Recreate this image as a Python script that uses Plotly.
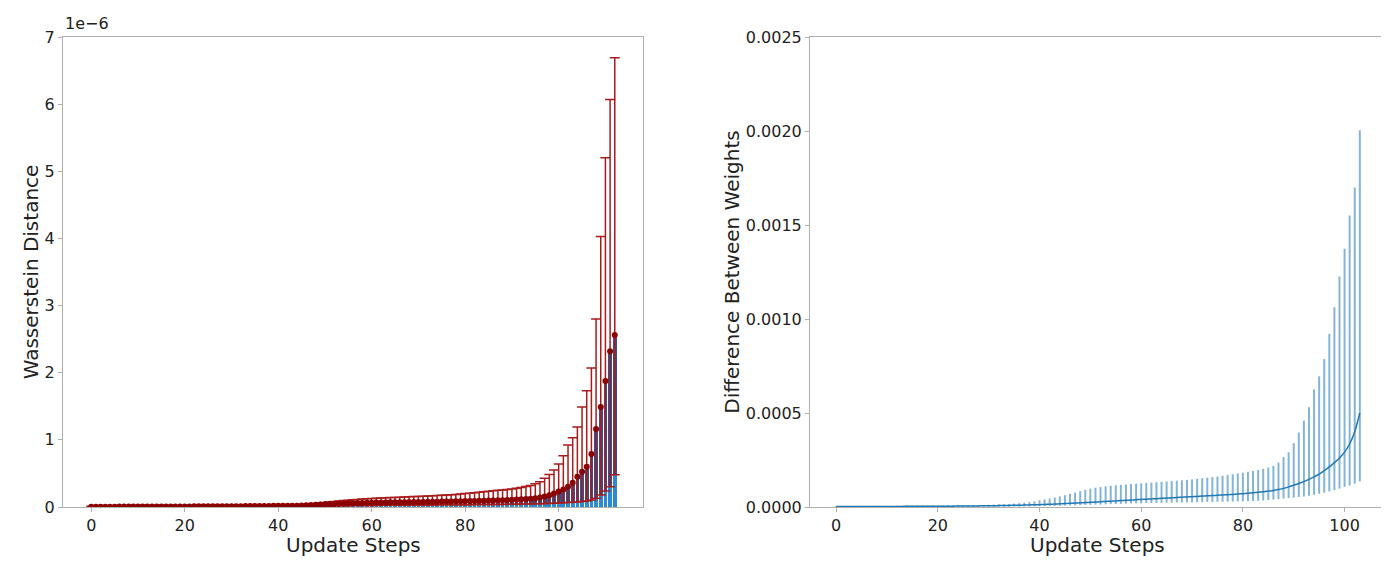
import numpy as np
import plotly.graph_objects as go
from plotly.subplots import make_subplots

# ---- left panel: Wasserstein distance per update step (units of 1e-6) ----
w_steps = list(range(113))
w_mean = [0.004, 0.004, 0.005, 0.005, 0.005, 0.005, 0.006, 0.006, 0.006, 0.006,
          0.006, 0.007, 0.007, 0.007, 0.007, 0.008, 0.008, 0.008, 0.008, 0.009,
          0.009, 0.009, 0.010, 0.010, 0.010, 0.011, 0.011, 0.011, 0.012, 0.012,
          0.012, 0.013, 0.013, 0.014, 0.014, 0.015, 0.015, 0.016, 0.016, 0.017,
          0.017, 0.018, 0.018, 0.019, 0.020, 0.022, 0.025, 0.028, 0.032, 0.036,
          0.040, 0.043, 0.046, 0.049, 0.052, 0.055, 0.057, 0.059, 0.061, 0.063,
          0.065, 0.066, 0.067, 0.068, 0.069, 0.070, 0.071, 0.072, 0.073, 0.074,
          0.075, 0.076, 0.077, 0.078, 0.080, 0.081, 0.082, 0.083, 0.085, 0.086,
          0.088, 0.089, 0.091, 0.092, 0.094, 0.096, 0.098, 0.100, 0.102, 0.105,
          0.108, 0.111, 0.114, 0.118, 0.123, 0.130, 0.140, 0.155, 0.175, 0.200,
          0.230, 0.260, 0.300, 0.360, 0.450, 0.525, 0.600, 0.790, 1.160, 1.490,
          1.875, 2.320, 2.560]
w_upper = [0.012, 0.012, 0.012, 0.013, 0.013, 0.013, 0.013, 0.013, 0.014, 0.014,
           0.014, 0.014, 0.014, 0.014, 0.015, 0.015, 0.015, 0.015, 0.015, 0.015,
           0.015, 0.016, 0.016, 0.016, 0.017, 0.017, 0.017, 0.018, 0.018, 0.018,
           0.019, 0.019, 0.019, 0.020, 0.020, 0.020, 0.021, 0.021, 0.022, 0.022,
           0.023, 0.024, 0.025, 0.026, 0.028, 0.031, 0.036, 0.042, 0.050, 0.058,
           0.068, 0.076, 0.083, 0.090, 0.096, 0.102, 0.108, 0.113, 0.118, 0.123,
           0.128, 0.131, 0.134, 0.137, 0.140, 0.143, 0.146, 0.149, 0.152, 0.155,
           0.158, 0.161, 0.164, 0.167, 0.170, 0.174, 0.178, 0.182, 0.187, 0.193,
           0.200, 0.205, 0.212, 0.220, 0.228, 0.235, 0.242, 0.248, 0.254, 0.260,
           0.268, 0.278, 0.290, 0.305, 0.322, 0.345, 0.375, 0.430, 0.485, 0.550,
           0.640, 0.765, 0.925, 1.030, 1.190, 1.490, 1.730, 2.070, 2.800, 4.030,
           5.200, 6.070, 6.690]
w_lower = [0.002, 0.002, 0.002, 0.002, 0.002, 0.002, 0.003, 0.003, 0.003, 0.003,
           0.003, 0.003, 0.003, 0.003, 0.003, 0.004, 0.004, 0.004, 0.004, 0.004,
           0.004, 0.004, 0.005, 0.005, 0.005, 0.005, 0.005, 0.005, 0.006, 0.006,
           0.006, 0.006, 0.006, 0.007, 0.007, 0.007, 0.007, 0.007, 0.008, 0.008,
           0.008, 0.008, 0.009, 0.009, 0.010, 0.010, 0.011, 0.012, 0.013, 0.014,
           0.015, 0.016, 0.017, 0.018, 0.019, 0.020, 0.021, 0.022, 0.022, 0.023,
           0.024, 0.024, 0.025, 0.025, 0.026, 0.026, 0.027, 0.027, 0.028, 0.029,
           0.030, 0.030, 0.031, 0.031, 0.032, 0.032, 0.033, 0.033, 0.034, 0.034,
           0.035, 0.035, 0.036, 0.036, 0.037, 0.037, 0.038, 0.038, 0.039, 0.040,
           0.041, 0.042, 0.043, 0.044, 0.045, 0.047, 0.049, 0.051, 0.053, 0.056,
           0.059, 0.062, 0.066, 0.070, 0.075, 0.082, 0.090, 0.105, 0.130, 0.180,
           0.240, 0.300, 0.480]

# ---- right panel: difference between weights per update step ----
d_steps = list(range(104))
d_mean = [2.0e-6, 2.1e-6, 2.2e-6, 2.3e-6, 2.4e-6, 2.5e-6, 2.6e-6, 2.7e-6, 2.8e-6, 2.9e-6,
          3.0e-6, 3.1e-6, 3.2e-6, 3.3e-6, 3.4e-6, 3.5e-6, 3.6e-6, 3.7e-6, 3.8e-6, 3.9e-6,
          4.0e-6, 4.2e-6, 4.4e-6, 4.6e-6, 4.8e-6, 5.0e-6, 5.3e-6, 5.6e-6, 5.9e-6, 6.2e-6,
          6.5e-6, 7.0e-6, 7.5e-6, 8.0e-6, 8.5e-6, 9.0e-6, 9.6e-6, 10.3e-6, 11.0e-6, 11.8e-6,
          12.6e-6, 13.5e-6, 14.5e-6, 15.6e-6, 16.8e-6, 18.0e-6, 19.4e-6, 20.8e-6, 22.2e-6, 23.6e-6,
          25.0e-6, 26.5e-6, 28.0e-6, 29.5e-6, 31.0e-6, 32.5e-6, 34.0e-6, 35.5e-6, 37.0e-6, 38.5e-6,
          40.0e-6, 41.5e-6, 43.0e-6, 44.5e-6, 46.0e-6, 47.5e-6, 49.0e-6, 50.5e-6, 52.0e-6, 53.5e-6,
          55.0e-6, 56.5e-6, 58.0e-6, 59.5e-6, 61.0e-6, 62.5e-6, 64.0e-6, 65.5e-6, 67.0e-6, 69.0e-6,
          71.0e-6, 73.0e-6, 75.5e-6, 78.0e-6, 81.0e-6, 84.5e-6, 88.0e-6, 93.0e-6, 99.0e-6, 107e-6,
          116e-6, 125e-6, 135e-6, 147e-6, 160e-6, 175e-6, 193e-6, 213e-6, 236e-6, 261e-6,
          292e-6, 335e-6, 400e-6, 500e-6]
d_upper = [5e-6, 5e-6, 5e-6, 5e-6, 5e-6, 6e-6, 6e-6, 6e-6, 6e-6, 6e-6,
           6e-6, 6e-6, 7e-6, 7e-6, 7e-6, 7e-6, 7e-6, 8e-6, 8e-6, 8e-6,
           8e-6, 8e-6, 9e-6, 9e-6, 9e-6, 10e-6, 10e-6, 10e-6, 11e-6, 11e-6,
           12e-6, 13e-6, 14e-6, 15e-6, 16e-6, 18e-6, 20e-6, 23e-6, 26e-6, 30e-6,
           36e-6, 40e-6, 45e-6, 50e-6, 56e-6, 63e-6, 70e-6, 77e-6, 84e-6, 91e-6,
           98e-6, 102e-6, 106e-6, 110e-6, 113e-6, 116e-6, 118e-6, 120e-6, 122e-6, 124e-6,
           126e-6, 128e-6, 130e-6, 132e-6, 134e-6, 136e-6, 138e-6, 140e-6, 142e-6, 144e-6,
           147e-6, 150e-6, 153e-6, 156e-6, 159e-6, 162e-6, 166e-6, 170e-6, 174e-6, 178e-6,
           182e-6, 187e-6, 192e-6, 197e-6, 203e-6, 210e-6, 219e-6, 236e-6, 266e-6, 291e-6,
           340e-6, 396e-6, 459e-6, 531e-6, 626e-6, 695e-6, 787e-6, 921e-6, 1063e-6, 1226e-6,
           1374e-6, 1550e-6, 1700e-6, 2004e-6]
d_lower = [0.5e-6, 0.5e-6, 0.5e-6, 0.5e-6, 0.5e-6, 0.5e-6, 0.5e-6, 0.5e-6, 0.5e-6, 0.5e-6,
           0.6e-6, 0.6e-6, 0.6e-6, 0.6e-6, 0.6e-6, 0.7e-6, 0.7e-6, 0.7e-6, 0.7e-6, 0.7e-6,
           0.8e-6, 0.8e-6, 0.8e-6, 0.8e-6, 0.9e-6, 0.9e-6, 0.9e-6, 1.0e-6, 1.0e-6, 1.0e-6,
           1.0e-6, 1.0e-6, 1.5e-6, 1.5e-6, 2.0e-6, 2.0e-6, 2.5e-6, 3.0e-6, 3.0e-6, 3.5e-6,
           4.0e-6, 4.5e-6, 5.0e-6, 5.5e-6, 6.0e-6, 7.0e-6, 8.0e-6, 9.0e-6, 10e-6, 11e-6,
           12e-6, 12.5e-6, 13e-6, 14e-6, 15e-6, 16e-6, 17e-6, 18e-6, 19e-6, 20e-6,
           20e-6, 21e-6, 21e-6, 22e-6, 22e-6, 23e-6, 23e-6, 24e-6, 24e-6, 25e-6,
           25e-6, 26e-6, 26e-6, 27e-6, 27e-6, 28e-6, 28e-6, 29e-6, 29e-6, 30e-6,
           30e-6, 31e-6, 32e-6, 33e-6, 35e-6, 37e-6, 39e-6, 42e-6, 45e-6, 48e-6,
           50e-6, 53e-6, 56e-6, 60e-6, 65e-6, 70e-6, 76e-6, 83e-6, 90e-6, 98e-6,
           107e-6, 114e-6, 124e-6, 136e-6]

w_yticks = [0, 1, 2, 3, 4, 5, 6, 7]
d_yticks = [0, 0.0005, 0.0010, 0.0015, 0.0020, 0.0025]
x_ticks = [0, 20, 40, 60, 80, 100]

FONT = "DejaVu Sans"
AX_COL = "#b0b0b0"
TXT = "#222"
LEFT_DOM = [0, 0.4384]
RIGHT_DOM = [0.5646, 1.0]

wm, wu, wl = np.array(w_mean), np.array(w_upper), np.array(w_lower)
dm, du, dl = np.array(d_mean), np.array(d_upper), np.array(d_lower)

fig = make_subplots(rows=1, cols=2, horizontal_spacing=0.1)

# dark bar = mean, light bar = lower bound drawn over it
fig.add_trace(go.Bar(x=w_steps, y=w_mean, width=0.8, marker_color="#34508e",
                     marker_line_width=0, showlegend=False), row=1, col=1)
fig.add_trace(go.Bar(x=w_steps, y=w_lower, width=0.8, marker_color="#2b8ad2",
                     marker_line_width=0, showlegend=False), row=1, col=1)
fig.add_trace(go.Scatter(x=w_steps, y=w_mean, mode="markers",
                         marker=dict(color="#8b0000", size=6),
                         error_y=dict(type="data", symmetric=False,
                                      array=wu - wm, arrayminus=wm - wl,
                                      color="#a81c1c", thickness=1.5, width=5),
                         showlegend=False), row=1, col=1)

fig.add_trace(go.Scatter(x=d_steps, y=d_mean, mode="lines",
                         line=dict(color="#1f77b4", width=1.5, shape="spline", smoothing=0.6),
                         error_y=dict(type="data", symmetric=False,
                                      array=du - dm, arrayminus=dm - dl,
                                      color="rgba(31,119,180,0.55)", thickness=2, width=0),
                         showlegend=False), row=1, col=2)

axis_style = dict(showline=True, mirror=True, linecolor=AX_COL, linewidth=1,
                  ticks="outside", ticklen=4, tickcolor=AX_COL, showgrid=False,
                  zeroline=False, tickfont=dict(size=16, color=TXT))
title_font = dict(size=20, color=TXT)

fig.update_xaxes(**axis_style)
fig.update_yaxes(**axis_style)

fig.update_xaxes(domain=LEFT_DOM, range=[-6.04, 118.04], tickvals=x_ticks, row=1, col=1)
fig.update_xaxes(domain=RIGHT_DOM, range=[-5.15, 108.15], tickvals=x_ticks, row=1, col=2)
fig.update_yaxes(range=[0, 7], tickvals=w_yticks, ticktext=[str(v) for v in w_yticks],
                 title=dict(text="Wasserstein Distance", font=title_font, standoff=0),
                 row=1, col=1)
fig.update_yaxes(range=[0, 0.0025], tickvals=d_yticks, tickformat=".4f",
                 title=dict(text="Difference Between Weights", font=title_font, standoff=0),
                 row=1, col=2)

# x titles sit a bit tighter under the ticks than plotly's default
for dom in (LEFT_DOM, RIGHT_DOM):
    fig.add_annotation(text="Update Steps", xref="paper", yref="paper",
                       x=(dom[0] + dom[1]) / 2, y=0, xanchor="center", yanchor="middle",
                       yshift=-38, showarrow=False, font=dict(size=20, color=TXT, family=FONT))

fig.add_annotation(text="1e\u22126", xref="paper", yref="paper", x=0, y=1.0,
                   xanchor="left", yanchor="bottom", showarrow=False, yshift=2,
                   font=dict(size=16, color=TXT, family=FONT))

# the page adds an 8px body margin, so the figure is kept a little smaller
fig.update_layout(width=1381, height=559, barmode="overlay", bargap=0,
                  margin=dict(l=55, r=3, t=29, b=60),
                  paper_bgcolor="white", plot_bgcolor="white",
                  font=dict(family=FONT, color=TXT))

fig.write_html("out.html")
